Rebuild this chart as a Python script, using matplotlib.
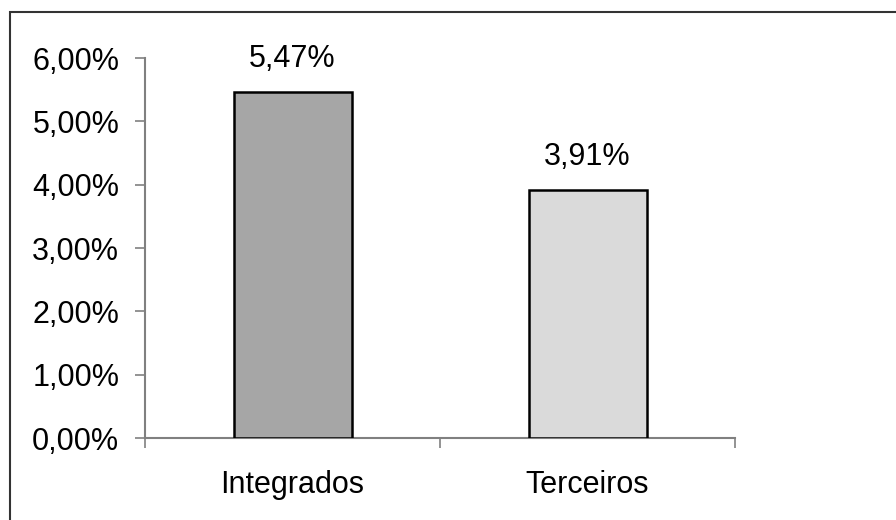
import matplotlib.pyplot as plt
from matplotlib.patches import Rectangle
from matplotlib.ticker import FuncFormatter, FixedLocator

plt.rcParams["font.family"] = ["Liberation Sans", "DejaVu Sans"]

categories = ["Integrados", "Terceiros"]
values = [5.47, 3.91]
bar_colors = ["#a6a6a6", "#dadada"]
y_ticks = [0, 1, 2, 3, 4, 5, 6]

FS = 22


def pct_br(v, _pos=None):
    return f"{v:.2f}%".replace(".", ",")


fig = plt.figure(figsize=(8.96, 5.2), dpi=100)
ax = fig.add_axes([145 / 896, 1 - 438 / 520, 590 / 896, 380 / 520])

x = range(len(categories))
bars = ax.bar(x, values, width=0.4, color=bar_colors, edgecolor="black", linewidth=1.8, zorder=3)

for b, v in zip(bars, values):
    ax.annotate(pct_br(v), (b.get_x() + b.get_width() / 2, v), xytext=(0, 13),
                textcoords="offset points", ha="center", va="bottom", fontsize=FS)

ax.set_xlim(-0.5, len(categories) - 0.5)
ax.set_ylim(0, 6)
ax.set_yticks(y_ticks)
ax.yaxis.set_major_formatter(FuncFormatter(pct_br))

# boundary ticks between categories, labels on minor ticks at bar centres
ax.xaxis.set_major_locator(FixedLocator([-0.5, 0.5, 1.5]))
ax.xaxis.set_minor_locator(FixedLocator(list(x)))
ax.set_xticklabels([])
ax.set_xticklabels(categories, minor=True)
ax.tick_params(axis="x", which="minor", length=0, pad=23, labelsize=FS)
ax.tick_params(axis="x", which="major", direction="out", length=7.5, width=1.2, color="#808080")
ax.tick_params(axis="y", direction="out", length=7.5, width=1.2, color="#808080", pad=11, labelsize=FS)

for side in ["top", "right"]:
    ax.spines[side].set_visible(False)
for side in ["left", "bottom"]:
    ax.spines[side].set_color("#808080")
    ax.spines[side].set_linewidth(1.5)

# outer frame of the chart area
fig.patches.append(Rectangle((10 / 896, -0.1), 1.2, 1.1 - 12 / 520, transform=fig.transFigure,
                             fill=False, edgecolor="#333333", linewidth=1.5))

fig.savefig("out.png", dpi=100)
